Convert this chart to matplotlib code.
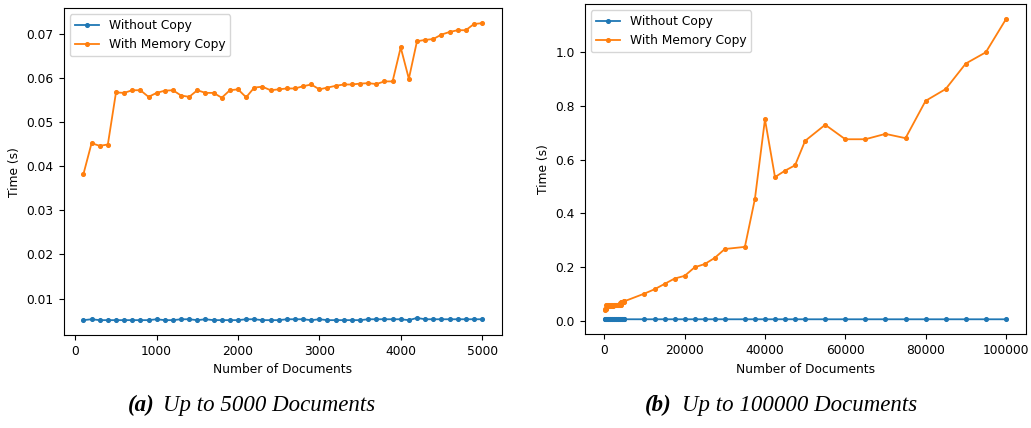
import numpy as np
import matplotlib; matplotlib.use("Agg")
import matplotlib.pyplot as plt

# small runs: 100..5000 documents
docs_small = [100, 200, 300, 400, 500, 600, 700, 800, 900, 1000,
              1100, 1200, 1300, 1400, 1500, 1600, 1700, 1800, 1900, 2000,
              2100, 2200, 2300, 2400, 2500, 2600, 2700, 2800, 2900, 3000,
              3100, 3200, 3300, 3400, 3500, 3600, 3700, 3800, 3900, 4000,
              4100, 4200, 4300, 4400, 4500, 4600, 4700, 4800, 4900, 5000]
nocopy_small = [0.0051, 0.0053, 0.0051, 0.0051, 0.0051, 0.0051, 0.0051, 0.0051, 0.0051, 0.0053,
                0.0051, 0.0051, 0.0053, 0.0053, 0.0051, 0.0053, 0.0051, 0.0051, 0.0051, 0.0051,
                0.0053, 0.0053, 0.0051, 0.0051, 0.0051, 0.0053, 0.0053, 0.0053, 0.0051, 0.0053,
                0.0051, 0.0051, 0.0051, 0.0051, 0.0051, 0.0053, 0.0053, 0.0053, 0.0053, 0.0053,
                0.0051, 0.0056, 0.0053, 0.0053, 0.0053, 0.0053, 0.0053, 0.0053, 0.0053, 0.0053]
memcopy_small = [0.0382, 0.0452, 0.0446, 0.0449, 0.0567, 0.0566, 0.0572, 0.0572, 0.0557, 0.0566,
                 0.0571, 0.0572, 0.0560, 0.0557, 0.0572, 0.0566, 0.0566, 0.0555, 0.0572, 0.0574,
                 0.0556, 0.0578, 0.0580, 0.0572, 0.0574, 0.0576, 0.0576, 0.0581, 0.0585, 0.0574,
                 0.0578, 0.0582, 0.0585, 0.0585, 0.0587, 0.0588, 0.0586, 0.0592, 0.0592, 0.0669,
                 0.0598, 0.0683, 0.0686, 0.0688, 0.0698, 0.0704, 0.0708, 0.0708, 0.0722, 0.0724]

# large runs: 10000..100000 documents
docs_large = [10000, 12500, 15000, 17500, 20000, 22500, 25000, 27500, 30000, 35000,
              37500, 40000, 42500, 45000, 47500, 50000, 55000, 60000, 65000, 70000,
              75000, 80000, 85000, 90000, 95000, 100000]
nocopy_large = [0.0052, 0.0052, 0.0052, 0.0052, 0.0052, 0.0052, 0.0052, 0.0052, 0.0052, 0.0052,
                0.0052, 0.0052, 0.0052, 0.0052, 0.0052, 0.0052, 0.0052, 0.0052, 0.0052, 0.0052,
                0.0052, 0.0052, 0.0052, 0.0052, 0.0052, 0.0052]
memcopy_large = [0.101, 0.117, 0.137, 0.157, 0.167, 0.199, 0.211, 0.234, 0.267, 0.275,
                 0.454, 0.750, 0.535, 0.559, 0.579, 0.670, 0.730, 0.676, 0.676, 0.696,
                 0.680, 0.819, 0.863, 0.958, 1.000, 1.123]

FS = 8.8
plt.rcParams.update({"font.size": FS, "lines.linewidth": 1.3, "lines.markersize": 5.3})

fig = plt.figure(figsize=(10.31, 4.28), dpi=100)
ax_a = fig.add_axes([0.0616, 0.2173, 0.4253, 0.7633])
ax_b = fig.add_axes([0.5671, 0.2189, 0.4280, 0.7711])

def panel(ax, x, y0, y1):
    ax.plot(x, y0, marker=".", label="Without Copy")
    ax.plot(x, y1, marker=".", label="With Memory Copy")
    ax.set_xlabel("Number of Documents")
    ax.set_ylabel("Time (s)")
    ax.legend(loc="upper left")

panel(ax_a, docs_small, nocopy_small, memcopy_small)
panel(ax_b, docs_small + docs_large, nocopy_small + nocopy_large,
      memcopy_small + memcopy_large)

# subfigure captions (LaTeX-style, italic serif with bold label)
cap = dict(family="Liberation Serif", style="italic", fontsize=16.5, va="center")
fig.text(0.1242, 0.053, "(a)", weight="bold", ha="left", **cap)
fig.text(0.1581, 0.053, "Up to 5000 Documents", ha="left", **cap)
fig.text(0.6256, 0.053, "(b)", weight="bold", ha="left", **cap)
fig.text(0.6615, 0.053, "Up to 100000 Documents", ha="left", **cap)

fig.savefig("out.png", dpi=100)
